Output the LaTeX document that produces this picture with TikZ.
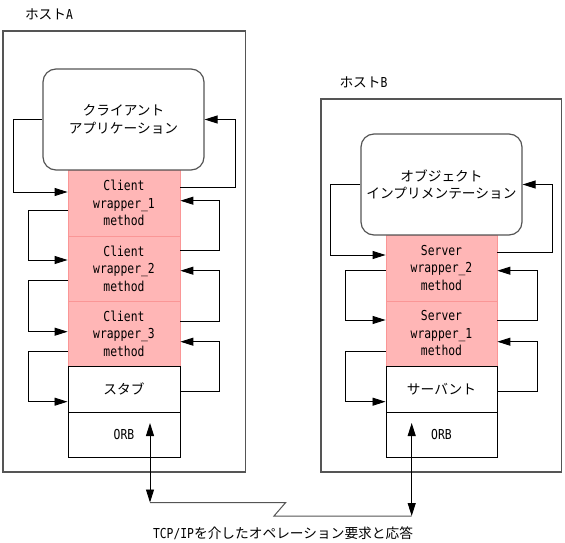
\documentclass[tikz,border=0pt]{standalone}
\usepackage{fontspec}
\setmainfont{Noto Sans CJK JP}
\newfontfamily\lat{DejaVu Sans Mono}[FakeStretch=0.83]
\usetikzlibrary{arrows.meta,calc}
\definecolor{pk}{RGB}{255,182,182}
\definecolor{pkd}{RGB}{250,150,150}
\definecolor{gl}{RGB}{85,85,85}
\begin{document}
\begin{tikzpicture}[x=1pt,y=-1pt,
  font=\fontsize{13.7}{17.5}\selectfont,
  host/.style={draw=gl,line width=1.2pt,inner sep=0},
  appbox/.style={draw=gl,line width=1.2pt,rounded corners=13pt,fill=white,align=center,inner sep=0},
  pinkbox/.style={fill=pk,draw=pkd,line width=0.8pt,align=center,inner sep=0,minimum width=112pt,font=\fontsize{13.7}{17.5}\selectfont\lat},
  wbox/.style={fill=white,draw=black,line width=1pt,align=center,inner sep=0,minimum width=112pt},
  arr/.style={draw=black,line width=0.9pt,-{Triangle[length=13pt,width=8pt]}},
  darr/.style={draw=black,line width=0.9pt,{Triangle[length=13pt,width=8pt]}-{Triangle[length=13pt,width=8pt]}},
  link/.style={draw=gl,line width=1pt}]
\useasboundingbox (0,0) rectangle (565,543);
% titles
\node (tA) at (49,14) {ホスト{\lat A}};
\node (tB) at (363.5,82) {ホスト{\lat B}};
% host boxes
\node[host,minimum width=242.7pt,minimum height=441pt] (hostA) at (124.35,251.5) {};
\node[host,minimum width=240.7pt,minimum height=373pt] (hostB) at (441.35,285.5) {};
% host A stack
\node[pinkbox,minimum height=66pt] (cw1) at (124,203) {Client\\wrapper\_1\\method};
\node[pinkbox,minimum height=65pt] (cw2) at (124,268.5) {Client\\wrapper\_2\\method};
\node[pinkbox,minimum height=65pt] (cw3) at (124,333.5) {Client\\wrapper\_3\\method};
\node[wbox,minimum height=46pt] (stub) at (124,389) {スタブ};
\node[wbox,minimum height=45pt] (orbA) at (124,434.5) {\lat ORB};
\node[appbox,minimum width=161pt,minimum height=101pt] (app) at (123.5,119.5) {クライアント\\アプリケーション};
% host B stack
\node[pinkbox,minimum width=111pt,minimum height=66pt] (sw2) at (441.5,268) {Server\\wrapper\_2\\method};
\node[pinkbox,minimum width=111pt,minimum height=65pt] (sw1) at (441.5,333.5) {Server\\wrapper\_1\\method};
\node[wbox,minimum width=111pt,minimum height=46pt] (serv) at (441.5,389) {サーバント};
\node[wbox,minimum width=111pt,minimum height=45pt] (orbB) at (441.5,434.5) {\lat ORB};
\node[appbox,minimum width=161pt,minimum height=101pt] (impl) at (441.5,184.5) {オブジェクト\\インプリメンテーション};
% host A connectors, left (downward)
\draw[arr] (app.west) -| (13,192) -- (cw1.west |- 0,192);
\draw[arr] (cw1.west |- 0,210.7) -| (28,260) -- (cw2.west |- 0,260);
\draw[arr] (cw2.west |- 0,280.7) -| (28,331.7) -- (cw3.west |- 0,331.7);
\draw[arr] (cw3.west |- 0,351.7) -| (28,401.7) -- (stub.west |- 0,401.7);
% host A connectors, right (upward)
\draw[arr] (cw1.east |- 0,187) -| (235,119.5) -- (app.east);
\draw[arr] (cw2.east |- 0,250) -| (219.7,200.7) -- (cw1.east |- 0,200.7);
\draw[arr] (cw3.east |- 0,321.3) -| (219.7,270.7) -- (cw2.east |- 0,270.7);
\draw[arr] (stub.east |- 0,391.7) -| (219.7,341.7) -- (cw3.east |- 0,341.7);
% host B connectors, left (downward)
\draw[arr] (impl.west) -| (330.7,255) -- (sw2.west |- 0,255);
\draw[arr] (sw2.west |- 0,270.7) -| (345.7,320) -- (sw1.west |- 0,320);
\draw[arr] (sw1.west |- 0,351.7) -| (345.7,401.7) -- (serv.west |- 0,401.7);
% host B connectors, right (upward)
\draw[arr] (sw2.east |- 0,252.7) -| (552.7,184.5) -- (impl.east);
\draw[arr] (sw1.east |- 0,320) -| (537.3,270.7) -- (sw2.east |- 0,270.7);
\draw[arr] (serv.east |- 0,391.7) -| (537.3,341.7) -- (sw1.east |- 0,341.7);
% network
\coordinate (a1) at (150,423);
\coordinate (a2) at (150,502.5);
\coordinate (b1) at (411.7,423);
\coordinate (b2) at (411.7,516);
\draw[darr] (a1) -- (a2);
\draw[darr] (b1) -- (b2);
\draw[link] (a2) -- (285.7,502.5) -- (274,516) -- (b2);
\node (cap) at (283,533) {{\lat TCP/IP}を介したオペレーション要求と応答};
\end{tikzpicture}
\end{document}
